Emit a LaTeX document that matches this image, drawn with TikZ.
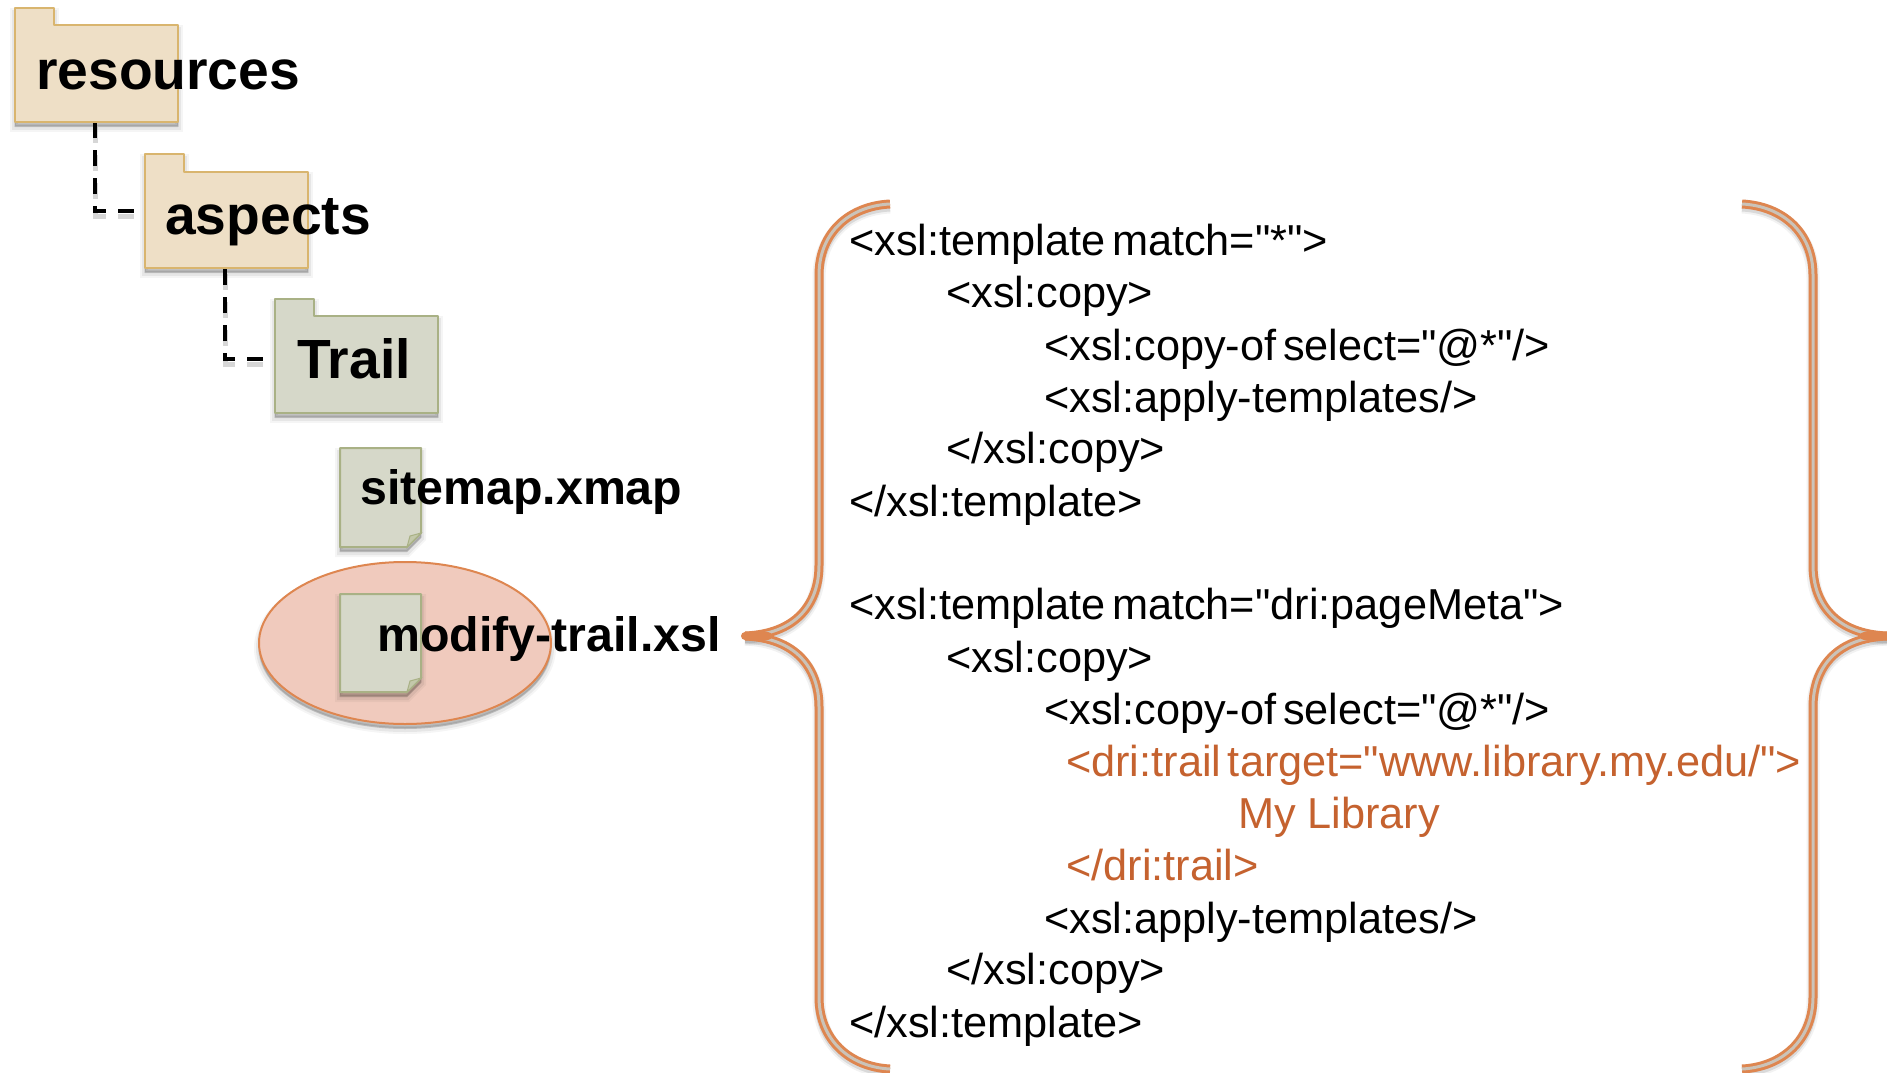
\documentclass[tikz,border=0pt]{standalone}
\usepackage{fontspec}
\setmainfont{Liberation Sans}[Ligatures=TeXOff,WordSpace=0.55]
\usetikzlibrary{calc,shapes.geometric}
\definecolor{tanfill}{HTML}{EEDFC6}
\definecolor{tanline}{HTML}{D9B56E}
\definecolor{sagefill}{HTML}{D6D8C9}
\definecolor{sageline}{HTML}{A9B185}
\definecolor{salmonfill}{HTML}{F0CABD}
\definecolor{orangeline}{HTML}{DE8650}
\definecolor{bracecore}{HTML}{CBC3B8}
\definecolor{codeorange}{HTML}{C5622F}
\tikzset{
  softshadow/.style={
    preaction={draw=black,draw opacity=.04,line width=10pt,fill=black,fill opacity=.05,transform canvas={yshift=-5pt}},
    preaction={draw=black,draw opacity=.06,line width=6pt,fill=black,fill opacity=.07,transform canvas={yshift=-5pt}},
    preaction={draw=black,draw opacity=.08,line width=2pt,fill=black,fill opacity=.10,transform canvas={yshift=-4pt}}},
  lineshadow/.style={
    preaction={draw=black,draw opacity=.05,line width=13pt,transform canvas={yshift=-3pt}},
    preaction={draw=black,draw opacity=.10,line width=9pt,transform canvas={yshift=-3pt}}},
  tanfolder/.style={fill=tanfill,draw=tanline,line width=2pt,line join=round,softshadow},
  sagefolder/.style={fill=sagefill,draw=sageline,line width=2pt,line join=round,softshadow},
  docshape/.style={fill=sagefill,draw=sageline,line width=2pt,line join=round,softshadow},
  foldcorner/.style={fill=sageline!70!white,draw=sageline,line width=1pt},
  bodybox/.style={inner sep=0pt,minimum width=163pt,minimum height=97pt,anchor=north west},
  bigfolder/.style={font=\fontsize{55.2}{60}\selectfont\bfseries,anchor=base west,inner sep=0pt},
  filename/.style={font=\fontsize{48.3}{56}\selectfont\bfseries,anchor=base west,inner sep=0pt},
  code/.style={font=\fontsize{43.3}{50}\selectfont,anchor=base west,inner sep=0pt},
  hilite/.style={code,text=codeorange},
  treeline/.style={draw=black,line width=3.6pt,dash pattern=on 16pt off 12pt},
  treeshadow/.style={draw=black,draw opacity=.16,line width=5pt,dash pattern=on 16pt off 12pt,transform canvas={yshift=-5pt}},
  braceout/.style={draw=orangeline,line width=9pt,line cap=butt,lineshadow},
  bracein/.style={draw=bracecore,line width=3pt,line cap=butt},
  bracetip/.style={draw=orangeline,line width=8pt,line cap=round},
  oval/.style={ellipse,fill=salmonfill,draw=orangeline,line width=2pt,minimum width=292pt,minimum height=162pt,inner sep=0pt,softshadow}
}
\begin{document}
\begin{tikzpicture}[x=1pt,y=-1pt]
\useasboundingbox (0,0) rectangle (1887,1073);
\fill[white] (0,0) rectangle (1887,1073);

% connectors under the folders
\node[bodybox,draw=none] (resbox) at (15,25) {};
\node[bodybox,draw=none] (aspbox) at (145,172) {};
\node[bodybox,draw=none] (trbox) at (275,316) {};
\path (resbox.south west) ++(80,0) coordinate (resdrop);
\path (aspbox.south west) ++(80,0) coordinate (aspdrop);
\path (aspbox.north west) ++(-8,39) coordinate (aspin);
\path (trbox.north west) ++(-11,43) coordinate (trin);
\path[treeshadow] (resdrop) |- (aspin);
\path[treeshadow] (aspdrop) |- (trin);
\draw[treeline] (resdrop) |- (aspin);
\draw[treeline] (aspdrop) |- (trin);

% folders
\path[tanfolder] (15,122) -- (15,8) -- (54,8) -- (54,25) -- (178,25) -- (178,122) -- cycle;
\path[tanfolder] (145,268) -- (145,154) -- (184,154) -- (184,172) -- (308,172) -- (308,268) -- cycle;
\path[sagefolder] (275,413) -- (275,299) -- (314,299) -- (314,316) -- (438,316) -- (438,413) -- cycle;

% highlight
\node[oval] (hl) at (405,643) {};

% documents
\path[docshape] (340,448) -- (421,448) -- (421,533) -- (407,547) -- (340,547) -- cycle;
\path[foldcorner] (421,533) -- (407,547) -- (410,536) -- cycle;
\path[docshape] (340,594) -- (421,594) -- (421,678) -- (407,692) -- (340,692) -- cycle;
\path[foldcorner] (421,678) -- (407,692) -- (410,681) -- cycle;

% labels
\node[bigfolder] (t1) at (36,89) {resources};
\node[bigfolder] (t2) at (165,234) {aspects};
\node[bigfolder] (t3) at (297,378) {Trail};
\node[filename] (t4) at (360,504) {sitemap.xmap};
\node[filename] (t5) at (377,651) {modify-trail.xsl};

% braces
\coordinate (ltop) at (890,204);
\coordinate (lbot) at (890,1069);
\coordinate (ltip) at (745,636);
\coordinate (ltipend) at (768,636);
\coordinate (rtop) at (1742,204);
\coordinate (rbot) at (1742,1069);
\coordinate (rtip) at (1887,636);
\coordinate (rtipend) at (1864,636);
\foreach \st in {braceout,bracein}{
  \path[\st] (ltop) .. controls (850,206) and (819,232) .. (819,275) -- (819,565)
     .. controls (819,605) and (795,634) .. (ltip);
  \path[\st] (ltip) .. controls (795,638) and (819,667) .. (819,707) -- (819,997)
     .. controls (819,1040) and (850,1067) .. (lbot);
  \path[\st] (rtop) .. controls (1782,206) and (1813,232) .. (1813,275) -- (1813,565)
     .. controls (1813,605) and (1837,634) .. (rtip);
  \path[\st] (rtip) .. controls (1837,638) and (1813,667) .. (1813,707) -- (1813,997)
     .. controls (1813,1040) and (1782,1067) .. (rbot);
}
\path[bracetip] (ltip) -- (ltipend);
\path[bracetip] (rtip) -- (rtipend);

% code
\node[code] (c1) at (849,255) {<xsl:template match="*">};
\node[code] (c2) at (946,307) {<xsl:copy>};
\node[code] (c3) at (1044,360) {<xsl:copy-of select="@*"/>};
\node[code] (c4) at (1044,412) {<xsl:apply-templates/>};
\node[code] (c5) at (946,463) {</xsl:copy>};
\node[code] (c6) at (849,516) {</xsl:template>};
\node[code] (c7) at (849,619) {<xsl:template match="dri:pageMeta">};
\node[code] (c8) at (946,672) {<xsl:copy>};
\node[code] (c9) at (1044,724) {<xsl:copy-of select="@*"/>};
\node[hilite] (c10) at (1066,776) {<dri:trail target="www.library.my.edu/">};
\node[hilite] (c11) at (1238,828) {My\hspace{5pt} Library};
\node[hilite] (c12) at (1066,880) {</dri:trail>};
\node[code] (c13) at (1044,933) {<xsl:apply-templates/>};
\node[code] (c14) at (946,984) {</xsl:copy>};
\node[code] (c15) at (849,1037) {</xsl:template>};
\end{tikzpicture}
\end{document}
